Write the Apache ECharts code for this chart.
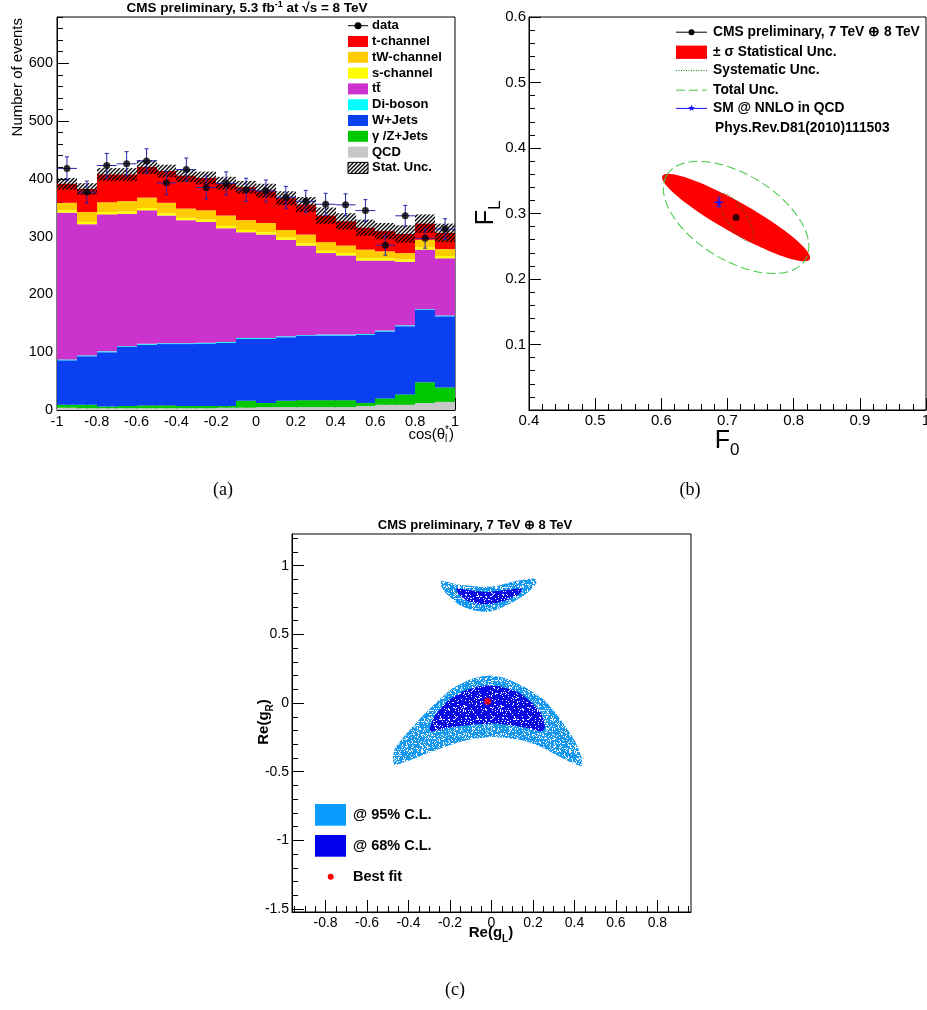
<!DOCTYPE html>
<html>
<head>
<meta charset="utf-8">
<title>CMS W helicity</title>
<script src="https://cdn.jsdelivr.net/npm/echarts@6.0.0/dist/echarts.min.js"></script>
<style>
  html, body { margin: 0; padding: 0; background: #fff; }
  #chart { width: 927px; height: 1010px; }
</style>
</head>
<body>
<div id="chart"></div>
<script>
// ---------- (a) cos(theta_l*) distribution, 20 bins from -1 to 1 ----------
const binCenters = [-0.95, -0.85, -0.75, -0.65, -0.55, -0.45, -0.35, -0.25, -0.15, -0.05,
  0.05, 0.15, 0.25, 0.35, 0.45, 0.55, 0.65, 0.75, 0.85, 0.95];
const binWidth = 0.1;
const qcd = [4, 3, 3, 3, 3, 3, 3, 3, 4, 4, 5, 5, 5, 5, 5, 7, 9, 9, 12, 14];
const gammaZJets = [5, 6, 3, 4, 5, 5, 4, 4, 3, 12, 7, 11, 12, 12, 12, 5, 11, 18, 36, 25];
const wJets = [77, 84, 94, 102, 105, 106, 107, 108, 109, 107, 111, 110, 111, 112, 112, 118, 116, 118, 125, 123];
const diBoson = [1.5, 1.5, 1.5, 1.5, 1.5, 1.5, 1.5, 1.5, 1.5, 1.5, 1.5, 1.5, 1.5, 1.5, 1.5, 1.5, 1.5, 1.5, 1.5, 1.5];
const ttbar = [254, 227, 237, 229, 231, 221, 213, 209, 197, 183, 179, 167, 155, 141, 137, 127, 121, 110, 103, 99];
const sChannel = [4, 4, 4, 4, 4, 4, 4, 4, 4, 4, 4, 4, 4, 4, 4, 4, 4, 4, 4, 4];
const tWChannel = [13, 17, 17, 18, 18, 18, 16, 16, 18, 17, 16, 13, 15, 15, 13, 15, 12, 11, 13, 12];
const tChannel = [33, 40, 48, 46, 53, 55, 57, 56, 56, 57, 56, 55, 52, 46, 42, 38, 35, 33, 28, 28];
const statUnc = [10, 10, 11, 11, 12, 11, 11, 11, 11, 11, 12, 12, 13, 14, 14, 14, 14, 15, 16, 16];
const dataCounts = [418, 377, 423, 426, 431, 393, 416, 385, 392, 381, 379, 368, 361, 356, 355, 345, 285, 336, 297, 313];
const dataErr = [20, 19, 21, 21, 21, 20, 20, 20, 20, 20, 19, 19, 19, 19, 19, 19, 17, 18, 17, 18];

// ---------- (b) F0 / FL plane ----------
const measured = [0.713, 0.294];
const smPoint = [0.687, 0.317];
const smErr = [0.007, 0.007];
// [F0 centre, FL centre, semi-major, semi-minor, tilt in degrees]
const statEllipse = [0.713, 0.294, 0.128, 0.023, -29.5];
const systEllipse = [0.713, 0.294, 0.0425, 0.0148, -56.7];
const totalEllipse = [0.713, 0.294, 0.1227, 0.065, -31.5];

// ---------- (c) Re(gL) / Re(gR) allowed regions ----------
const upper95 = [[-0.242, 0.890], [-0.169, 0.865], [-0.089, 0.851], [-0.024, 0.846], [0.040, 0.858],
  [0.121, 0.890], [0.209, 0.907], [0.217, 0.875], [0.169, 0.797], [0.105, 0.736], [0.024, 0.680],
  [-0.024, 0.663], [-0.089, 0.675], [-0.153, 0.712], [-0.218, 0.797], [-0.242, 0.853]];
const upper68 = [[-0.169, 0.834], [-0.105, 0.822], [-0.024, 0.809], [0.056, 0.822], [0.145, 0.834],
  [0.137, 0.797], [0.072, 0.748], [0.008, 0.724], [-0.057, 0.719], [-0.121, 0.748], [-0.161, 0.797]];
const lower95 = [[-0.475, -0.410], [-0.467, -0.337], [-0.419, -0.239], [-0.354, -0.129], [-0.274, -0.008],
  [-0.193, 0.102], [-0.097, 0.175], [-0.016, 0.200], [0.064, 0.183], [0.161, 0.114], [0.258, 0.017],
  [0.338, -0.129], [0.402, -0.276], [0.435, -0.398], [0.435, -0.459], [0.386, -0.434], [0.322, -0.386],
  [0.241, -0.320], [0.161, -0.276], [0.080, -0.256], [0.000, -0.247], [-0.081, -0.259], [-0.161, -0.288],
  [-0.242, -0.329], [-0.322, -0.373], [-0.403, -0.422], [-0.467, -0.451]];
const lower68 = [[-0.298, -0.190], [-0.274, -0.093], [-0.210, 0.017], [-0.129, 0.090], [-0.032, 0.127],
  [0.048, 0.119], [0.129, 0.078], [0.193, 0.005], [0.241, -0.081], [0.258, -0.178], [0.241, -0.207],
  [0.193, -0.190], [0.113, -0.166], [0.016, -0.149], [-0.065, -0.154], [-0.145, -0.166], [-0.226, -0.186],
  [-0.290, -0.207]];
const bestFit = [-0.019, 0.012];

// tick labels
const aXLabels = [-1, -0.8, -0.6, -0.4, -0.2, 0, 0.2, 0.4, 0.6, 0.8, 1];
const aYLabels = [0, 100, 200, 300, 400, 500, 600];
const bXLabels = [0.4, 0.5, 0.6, 0.7, 0.8, 0.9, 1];
const bYLabels = [0.1, 0.2, 0.3, 0.4, 0.5, 0.6];
const cXLabels = [-0.8, -0.6, -0.4, -0.2, 0, 0.2, 0.4, 0.6, 0.8];
const cYLabels = [-1.5, -1, -0.5, 0, 0.5, 1];

const FONT = "'Liberation Sans', Arial, Helvetica, sans-serif";
const SERIF = "'Liberation Serif', 'Times New Roman', serif";
const halfBin = binWidth / 2;

const chart = echarts.init(document.getElementById('chart'), null, { renderer: 'canvas' });

// hatch fill like ROOT style 3004
const hatch = document.createElement('canvas');
hatch.width = 4;
hatch.height = 4;
(function () {
  const ctx = hatch.getContext('2d');
  ctx.strokeStyle = '#000';
  ctx.lineWidth = 1.3;
  ctx.beginPath();
  ctx.moveTo(0, 4); ctx.lineTo(4, 0);
  ctx.moveTo(-1, 1); ctx.lineTo(1, -1);
  ctx.moveTo(3, 5); ctx.lineTo(5, 3);
  ctx.stroke();
})();
const hatchFill = { image: hatch, repeat: 'repeat' };

// fixed (hashed) speckle texture, mimics the sampled-point look of the contours
function speckle(color, whitePercent) {
  const c = document.createElement('canvas');
  c.width = 37;
  c.height = 41;
  const ctx = c.getContext('2d');
  ctx.fillStyle = color;
  ctx.fillRect(0, 0, c.width, c.height);
  ctx.fillStyle = '#fff';
  for (let i = 0; i < c.width; i++) {
    for (let j = 0; j < c.height; j++) {
      let h = Math.imul(i, 374761393) + Math.imul(j, 668265263);
      h = Math.imul(h ^ (h >>> 13), 1274126177);
      h = (h ^ (h >>> 16)) >>> 0;
      if (h % 100 < whitePercent) ctx.fillRect(i, j, 1, 1);
    }
  }
  return { image: c, repeat: 'repeat' };
}

const measureCtx = document.createElement('canvas').getContext('2d');
function textWidth(str, size, weight) {
  measureCtx.font = (weight || 'normal') + ' ' + size + 'px ' + FONT;
  return measureCtx.measureText(str).width;
}

// text with sub/superscripts: pieces = [text, size, baseline shift, stackWithNext]
function mathLabel(pieces, x, y, align, weight, rotation) {
  const children = [];
  let cursor = 0;
  let stackW = 0;
  pieces.forEach(([t, size, dy, stack]) => {
    const w = textWidth(t, size, weight);
    children.push({
      type: 'text', x: cursor, y: dy - 0.35 * size,
      style: { text: t, fontSize: size, fontWeight: weight, fontFamily: FONT, fill: '#000', align: 'left', verticalAlign: 'middle' }
    });
    if (stack) {
      stackW = w;
    } else {
      cursor += Math.max(w, stackW);
      stackW = 0;
    }
  });
  const shift = align === 'center' ? -cursor / 2 : align === 'right' ? -cursor : 0;
  children.forEach(c => { c.x += shift; });
  return { type: 'group', x, y, rotation: rotation || 0, silent: true, children };
}

function plainText(t, x, y, size, weight, family, align, fill) {
  return {
    type: 'text', x, y, silent: true,
    style: { text: t, fontSize: size, fontWeight: weight || 'normal', fontFamily: family || FONT, fill: fill || '#000', align: align || 'left', verticalAlign: 'middle' }
  };
}

function minorTicks(lo, hi, step) {
  const out = [];
  for (let k = Math.ceil(lo / step - 1e-9); k * step <= hi + 1e-9; k++) out.push(+(k * step).toFixed(6));
  return out;
}

// a major axis (labels + long ticks) plus a twin carrying the short ticks
function axisPair(dim, gridIndex, min, max, major, minor, fontSize, margin) {
  const common = {
    type: 'value', gridIndex, min, max,
    position: dim === 'x' ? 'bottom' : 'left',
    splitLine: { show: false }
  };
  return [
    Object.assign({}, common, {
      axisLine: { show: true, onZero: false, lineStyle: { color: '#000', width: 1 } },
      axisTick: { show: true, inside: true, length: 12, customValues: major, lineStyle: { color: '#000' } },
      axisLabel: { show: true, customValues: major, margin, fontSize, fontFamily: FONT, color: '#000' }
    }),
    Object.assign({}, common, {
      axisLine: { show: false, onZero: false },
      axisTick: { show: true, inside: true, length: 6, customValues: minor, lineStyle: { color: '#000' } },
      axisLabel: { show: false }
    })
  ];
}

// ---------- series for (a) ----------
const layers = [
  { name: 'QCD', values: qcd, color: '#c8c8c8' },
  { name: 'γ /Z+Jets', values: gammaZJets, color: '#00c800' },
  { name: 'W+Jets', values: wJets, color: '#0b40f2' },
  { name: 'Di-boson', values: diBoson, color: '#00ffff' },
  { name: 'tt\u0304', values: ttbar, color: '#cc33cc' },
  { name: 's-channel', values: sChannel, color: '#ffff00' },
  { name: 'tW-channel', values: tWChannel, color: '#ffcc00' },
  { name: 't-channel', values: tChannel, color: '#ff0000' }
];

function bandSeries(name, lo, hi, fill) {
  return {
    type: 'custom', name, xAxisIndex: 0, yAxisIndex: 0,
    data: binCenters.map((c, i) => [c, lo[i], hi[i]]),
    renderItem: (params, api) => {
      const c = api.value(0);
      const p0 = api.coord([c - halfBin, api.value(2)]);
      const p1 = api.coord([c + halfBin, api.value(1)]);
      const x0 = Math.round(p0[0]);
      const x1 = Math.round(p1[0]);
      return { type: 'rect', shape: { x: x0, y: p0[1], width: x1 - x0, height: p1[1] - p0[1] }, style: { fill } };
    }
  };
}

function errorBarSeries(name, axisIndex, data, color, cap) {
  return {
    type: 'custom', name, xAxisIndex: axisIndex, yAxisIndex: axisIndex, data,
    renderItem: (params, api) => {
      const x = api.value(0), y = api.value(1), ex = api.value(2), ey = api.value(3);
      const t = api.coord([x, y + ey]), b = api.coord([x, y - ey]);
      const l = api.coord([x - ex, y]), r = api.coord([x + ex, y]);
      const st = { stroke: color, lineWidth: 1 };
      return {
        type: 'group', children: [
          { type: 'line', shape: { x1: t[0], y1: t[1], x2: b[0], y2: b[1] }, style: st },
          { type: 'line', shape: { x1: l[0], y1: l[1], x2: r[0], y2: r[1] }, style: st },
          { type: 'line', shape: { x1: t[0] - cap, y1: t[1], x2: t[0] + cap, y2: t[1] }, style: st },
          { type: 'line', shape: { x1: b[0] - cap, y1: b[1], x2: b[0] + cap, y2: b[1] }, style: st }
        ]
      };
    }
  };
}

const series = [];
let base = binCenters.map(() => 0);
layers.forEach(layer => {
  const top = base.map((b, i) => b + layer.values[i]);
  series.push(bandSeries(layer.name, base, top, layer.color));
  base = top;
});
const mcTotal = base;
series.push(bandSeries('Stat. Unc.', mcTotal.map((v, i) => v - statUnc[i]), mcTotal.map((v, i) => v + statUnc[i]), hatchFill));
series.push(errorBarSeries('data errors', 0, binCenters.map((c, i) => [c, dataCounts[i], halfBin, dataErr[i]]), '#2424a8', 2));
series.push({
  type: 'scatter', name: 'data', xAxisIndex: 0, yAxisIndex: 0,
  symbol: 'circle', symbolSize: 7, itemStyle: { color: '#000' },
  data: binCenters.map((c, i) => [c, dataCounts[i]])
});

// ---------- series for (b) ----------
function ellipseSeries(name, e, style) {
  return {
    type: 'custom', name, xAxisIndex: 2, yAxisIndex: 2, data: [e],
    renderItem: (params, api) => {
      const c = api.coord([api.value(0), api.value(1)]);
      const rx = api.size([api.value(2), 0])[0];
      const ry = api.size([api.value(3), 0])[0];
      return {
        type: 'ellipse', x: c[0], y: c[1], rotation: api.value(4) * Math.PI / 180,
        shape: { cx: 0, cy: 0, rx, ry }, style
      };
    }
  };
}
const STAR = 'path://M12,0L14.9,8.1L23.4,8.1L16.5,13.2L19,21.4L12,16.4L5,21.4L7.5,13.2L0.6,8.1L9.1,8.1Z';
series.push(ellipseSeries('± σ Statistical Unc.', statEllipse, { fill: '#ff0000' }));
series.push({
  type: 'scatter', name: 'CMS preliminary', xAxisIndex: 2, yAxisIndex: 2,
  symbol: 'circle', symbolSize: 7, itemStyle: { color: '#000' }, data: [measured]
});
series.push(ellipseSeries('Systematic Unc.', systEllipse, { fill: 'none', stroke: '#117711', lineWidth: 1, lineDash: [1, 2] }));
series.push(ellipseSeries('Total Unc.', totalEllipse, { fill: 'none', stroke: '#44c844', lineWidth: 1, lineDash: [9, 4] }));
series.push(errorBarSeries('SM errors', 2, [[smPoint[0], smPoint[1], smErr[0], smErr[1]]], '#2222ff', 2));
series.push({
  type: 'scatter', name: 'SM @ NNLO in QCD', xAxisIndex: 2, yAxisIndex: 2,
  symbol: STAR, symbolSize: 8, itemStyle: { color: '#1010ff' }, data: [smPoint]
});

// ---------- series for (c) ----------
function regionSeries(name, shapes, fill) {
  return {
    type: 'custom', name, xAxisIndex: 4, yAxisIndex: 4,
    data: shapes.map((s, i) => i),
    renderItem: (params, api) => ({
      type: 'polygon',
      shape: { points: shapes[params.dataIndex].map(p => api.coord(p)), smooth: 0.2 },
      style: { fill }
    })
  };
}
series.push(regionSeries('@ 95% C.L.', [upper95, lower95], speckle('#1598ef', 22)));
series.push(regionSeries('@ 68% C.L.', [upper68, lower68], speckle('#0a0ae6', 12)));
series.push({
  type: 'scatter', name: 'Best fit', xAxisIndex: 4, yAxisIndex: 4,
  symbol: 'circle', symbolSize: 7, itemStyle: { color: '#ff0000' }, data: [bestFit]
});

// ---------- legends and labels ----------
const graphics = [];
const legendRowsA = [{ name: 'data' }].concat(layers.slice().reverse(), [{ name: 'Stat. Unc.', hatch: true }]);
legendRowsA.forEach((row, i) => {
  const y = 25.7 + 15.8 * i;
  if (row.name === 'data') {
    graphics.push({ type: 'line', silent: true, shape: { x1: 348, y1: y, x2: 368, y2: y }, style: { stroke: '#000', lineWidth: 1 } });
    graphics.push({ type: 'circle', silent: true, shape: { cx: 358, cy: y, r: 3.5 }, style: { fill: '#000' } });
  } else if (row.hatch) {
    graphics.push({ type: 'rect', silent: true, shape: { x: 348, y: y - 5.5, width: 20, height: 11 }, style: { fill: hatchFill, stroke: '#000', lineWidth: 1 } });
  } else {
    graphics.push({ type: 'rect', silent: true, shape: { x: 348, y: y - 5.5, width: 20, height: 11 }, style: { fill: row.color } });
  }
  graphics.push(plainText(row.name, 372, y, 13, 'bold'));
});

const legendRowsB = [
  { name: 'CMS preliminary, 7 TeV ⊕ 8 TeV', y: 32.2, kind: 'dot' },
  { name: '± σ Statistical Unc.', y: 52.2, kind: 'box' },
  { name: 'Systematic Unc.', y: 70.6, kind: 'dotted' },
  { name: 'Total Unc.', y: 90.2, kind: 'dashed' },
  { name: 'SM @ NNLO in QCD', y: 108.4, kind: 'star' },
  { name: 'Phys.Rev.D81(2010)111503', y: 128.6, kind: 'none' }
];
legendRowsB.forEach(row => {
  const y = row.y;
  if (row.kind === 'dot') {
    graphics.push({ type: 'line', silent: true, shape: { x1: 676, y1: y, x2: 707, y2: y }, style: { stroke: '#000', lineWidth: 1 } });
    graphics.push({ type: 'circle', silent: true, shape: { cx: 691.5, cy: y, r: 3 }, style: { fill: '#000' } });
  } else if (row.kind === 'box') {
    graphics.push({ type: 'rect', silent: true, shape: { x: 676, y: y - 6.6, width: 31, height: 13.3 }, style: { fill: '#ff0000' } });
  } else if (row.kind === 'dotted') {
    graphics.push({ type: 'line', silent: true, shape: { x1: 676, y1: y, x2: 707, y2: y }, style: { stroke: '#117711', lineWidth: 1, lineDash: [1, 1.5] } });
  } else if (row.kind === 'dashed') {
    graphics.push({ type: 'line', silent: true, shape: { x1: 676, y1: y, x2: 707, y2: y }, style: { stroke: '#44c844', lineWidth: 1, lineDash: [9, 4] } });
  } else if (row.kind === 'star') {
    graphics.push({ type: 'line', silent: true, shape: { x1: 676, y1: y, x2: 707, y2: y }, style: { stroke: '#1010ff', lineWidth: 1 } });
    graphics.push(plainText('★', 691.5, y, 9, 'normal', 'DejaVu Sans', 'center', '#1010ff'));
  }
  graphics.push(plainText(row.name, row.kind === 'none' ? 715 : 713, y, 13.8, 'bold'));
});

graphics.push({ type: 'rect', silent: true, shape: { x: 315, y: 804, width: 31, height: 21.7 }, style: { fill: '#0a9cff' } });
graphics.push({ type: 'rect', silent: true, shape: { x: 315, y: 835, width: 31, height: 21.7 }, style: { fill: '#0000ee' } });
graphics.push({ type: 'circle', silent: true, shape: { cx: 330.7, cy: 876.7, r: 3 }, style: { fill: '#ff0000' } });
graphics.push(plainText('@ 95% C.L.', 353, 814.5, 14.5, 'bold'));
graphics.push(plainText('@ 68% C.L.', 353, 845.5, 14.5, 'bold'));
graphics.push(plainText('Best fit', 353, 877, 14.5, 'bold'));

// titles and axis titles
graphics.push(mathLabel([['CMS preliminary, 5.3 fb', 13.5, 0], ['-1', 9, -5], [' at √s = 8 TeV', 13.5, 0]], 247, 13, 'center', 'bold'));
graphics.push(mathLabel([['CMS preliminary, 7 TeV ⊕ 8 TeV', 13, 0]], 475, 530, 'center', 'bold'));
graphics.push(mathLabel([['Number of events', 15, 0]], 23, 18, 'right', 'normal', Math.PI / 2));
graphics.push(mathLabel([['cos(θ', 15, 0], ['l', 10, 3, true], ['*', 10, -6], [')', 15, 0]], 454, 440, 'right', 'normal'));
graphics.push(mathLabel([['F', 25, 0], ['L', 17, 6]], 495, 213, 'center', 'normal', Math.PI / 2));
graphics.push(mathLabel([['F', 25, 0], ['0', 17, 6]], 727, 450, 'center', 'normal'));
graphics.push(mathLabel([['Re(g', 15, 0], ['L', 10, 5], [')', 15, 0]], 491, 938, 'center', 'bold'));
graphics.push(mathLabel([['Re(g', 15, 0], ['R', 10, 5], [')', 15, 0]], 269, 722, 'center', 'bold', Math.PI / 2));
graphics.push(plainText('(a)', 223, 490, 18, 'normal', SERIF, 'center'));
graphics.push(plainText('(b)', 690, 490, 18, 'normal', SERIF, 'center'));
graphics.push(plainText('(c)', 455, 990, 18, 'normal', SERIF, 'center'));

const frame = { show: true, borderColor: '#000', borderWidth: 1, backgroundColor: 'transparent', outerBoundsMode: 'none' };

const option = {
  animation: false,
  backgroundColor: '#fff',
  grid: [
    Object.assign({ left: 57, top: 17, width: 398, height: 393 }, frame),
    Object.assign({ left: 529, top: 17, width: 397, height: 393 }, frame),
    Object.assign({ left: 292, top: 534, width: 399, height: 378 }, frame)
  ],
  xAxis: [].concat(
    axisPair('x', 0, -1, 1, aXLabels, minorTicks(-1, 1, 0.05), 14.5, 4),
    axisPair('x', 1, 0.4, 1, bXLabels, minorTicks(0.4, 1, 0.02), 15, 3),
    axisPair('x', 2, -0.962, 0.962, cXLabels, minorTicks(-0.962, 0.962, 0.05), 14, 4)
  ),
  yAxis: [].concat(
    axisPair('y', 0, 0, 680, aYLabels, minorTicks(0, 680, 20), 14.5, 4),
    axisPair('y', 1, 0, 0.6, bYLabels, minorTicks(0, 0.6, 0.02), 15, 3),
    axisPair('y', 2, -1.522, 1.231, cYLabels, minorTicks(-1.522, 1.231, 0.1), 14, 3)
  ),
  series,
  graphic: { elements: graphics }
};

chart.setOption(option);
</script>
</body>
</html>
